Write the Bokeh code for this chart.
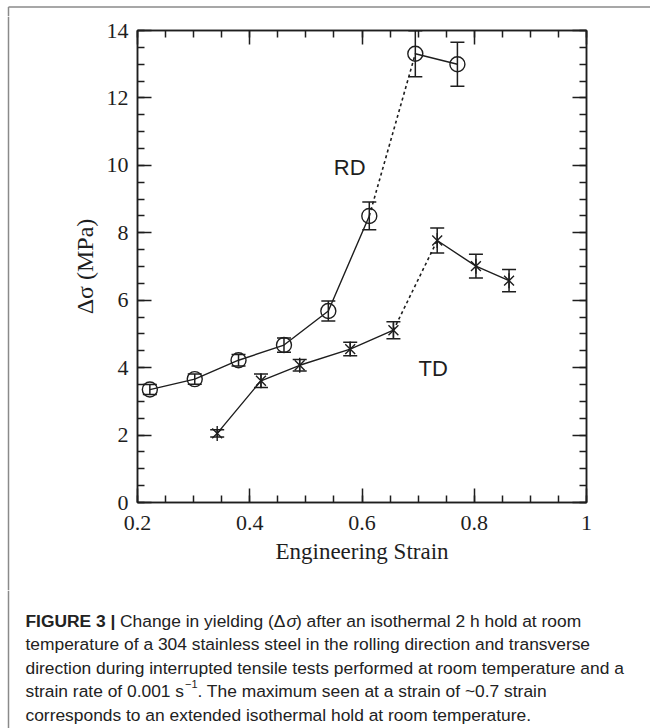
from bokeh.plotting import figure
from bokeh.layouts import column, row
from bokeh.models import (ColumnDataSource, Whisker, TeeHead, FixedTicker, LinearAxis,
                          Label, Range1d, CustomJSTickFormatter)
from bokeh.embed import file_html
from bokeh.resources import INLINE

# ---------------- data ----------------
rd_strain = [0.222, 0.302, 0.380, 0.461, 0.540, 0.613, 0.695, 0.770]
rd_dsigma = [3.35, 3.66, 4.22, 4.67, 5.68, 8.50, 13.31, 13.00]
rd_err = [0.15, 0.15, 0.17, 0.21, 0.30, 0.41, 0.68, 0.65]

td_strain = [0.342, 0.420, 0.489, 0.579, 0.656, 0.734, 0.803, 0.862]
td_dsigma = [2.05, 3.61, 4.07, 4.55, 5.11, 7.77, 7.01, 6.58]
td_err = [0.11, 0.20, 0.17, 0.20, 0.25, 0.37, 0.35, 0.33]

x_major = [0.2, 0.4, 0.6, 0.8, 1.0]
x_minor = [0.2, 0.25, 0.3, 0.35, 0.4, 0.45, 0.5, 0.55, 0.6, 0.65, 0.7, 0.75, 0.8, 0.85, 0.9, 0.95, 1.0]
y_major = [0, 2, 4, 6, 8, 10, 12, 14]
y_minor = [i * 0.5 for i in range(29)]

x_title = "Engineering Strain"
y_title = "\u0394\u03c3 (MPa)"

# caption pieces: (text, style, page x)
caption = [
    [("FIGURE 3 |", "bold", 25), ("Change in yielding (\u0394", "normal", 119.5),
     ("\u03c3", "italic", 286), (") after an isothermal 2 h hold at room", "normal", 295.5)],
    [("temperature of a 304 stainless steel in the rolling direction and transverse", "normal", 25)],
    [("direction during interrupted tensile tests performed at room temperature and a", "normal", 25)],
    [("strain rate of 0.001 s", "normal", 25), (". The maximum seen at a strain of ~0.7 strain", "normal", 197)],
    [("corresponds to an extended isothermal hold at room temperature.", "normal", 25)],
]
caption_base = [620, 643.5, 667, 690.5, 714]

# ---------------- layout constants (page pixels) ----------------
W, H = 650, 728
TOP_H = 16           # strip with the top border line
LEFT_W = 10          # strip with the left border line
PLOT_BOTTOM = 590    # page y where the plot figure ends and the caption starts
PH = PLOT_BOTTOM - TOP_H
PW = W - LEFT_W
FL, FR, FT, FB = 137, 586, 30, 502   # frame edges on the page
INK = "#1e1e1e"
BORDER = "#8a8a8a"
SERIF = "Liberation Serif"
CAPFONT = "Liberation Sans"


def blank(width, height, x0, x1, y0, y1):
    f = figure(width=width, height=height, output_backend="svg", toolbar_location=None,
               x_range=Range1d(x0, x1), y_range=Range1d(y1, y0),
               min_border=0, x_axis_location=None, y_axis_location=None,
               background_fill_color="white", border_fill_color="white")
    f.frame_align = False
    f.grid.visible = False
    f.outline_line_color = None
    return f


# top strip: top border line
ts = blank(W, TOP_H, 0, W, 0, TOP_H)
ts.segment(x0=[8, 8], y0=[6.5, 6.5], x1=[W, 8], y1=[6.5, TOP_H],
           line_color=BORDER, line_width=1.5)

# left strip: left border line
ls = blank(LEFT_W, PH, 0, LEFT_W, TOP_H, PLOT_BOTTOM)
ls.segment(x0=[8], y0=[TOP_H], x1=[8], y1=[PLOT_BOTTOM], line_color=BORDER, line_width=1.5)

# main plot
p = figure(width=PW, height=PH, output_backend="svg", toolbar_location=None,
           x_range=Range1d(0.2, 1.0), y_range=Range1d(0, 14),
           min_border_left=FL - LEFT_W, min_border_right=W - FR,
           min_border_top=FT - TOP_H, min_border_bottom=PLOT_BOTTOM - FB,
           background_fill_color="white", border_fill_color="white")
p.frame_align = False
p.grid.visible = False
p.outline_line_color = INK
p.outline_line_width = 1.5

p.add_layout(LinearAxis(), "above")
p.add_layout(LinearAxis(), "right")

for ax in p.xaxis:
    ax.ticker = FixedTicker(ticks=x_major, minor_ticks=x_minor)
for ax in p.yaxis:
    ax.ticker = FixedTicker(ticks=y_major, minor_ticks=y_minor)

for ax in p.axis:
    ax.major_tick_in = 14
    ax.major_tick_out = 0
    ax.minor_tick_in = 7
    ax.minor_tick_out = 0
    ax.axis_line_color = INK
    ax.axis_line_width = 1.5
    ax.major_tick_line_color = INK
    ax.minor_tick_line_color = INK
    ax.major_tick_line_width = 1.5
    ax.minor_tick_line_width = 1.5
    ax.major_label_text_font = SERIF
    ax.major_label_text_color = INK
    ax.major_label_text_font_size = "22px"
    ax.axis_label_text_font = SERIF
    ax.axis_label_text_font_style = "normal"
    ax.axis_label_text_color = INK
    ax.axis_label_text_font_size = "23px"

for ax in (p.above[0], p.right[0]):
    ax.formatter = CustomJSTickFormatter(code="return ''")
    ax.major_label_standoff = 0
    ax.major_label_text_font_size = "4px"

xb = p.below[0]
xb.axis_label = x_title
xb.major_label_standoff = 13
xb.axis_label_standoff = 6
xb.major_label_overrides = {1.0: "1"}

yl = p.left[0]
yl.axis_label = y_title
yl.major_label_standoff = 9
yl.axis_label_standoff = 6
yl.axis_label_text_font_size = "24px"


def draw_series(xs, ys, errs, dotted_at, marker):
    src = ColumnDataSource(dict(x=xs, y=ys,
                                lo=[a - b for a, b in zip(ys, errs)],
                                hi=[a + b for a, b in zip(ys, errs)]))
    p.add_layout(Whisker(source=src, base="x", lower="lo", upper="hi", dimension="height",
                         line_color=INK, line_width=1.5,
                         upper_head=TeeHead(size=14, line_color=INK, line_width=1.5),
                         lower_head=TeeHead(size=14, line_color=INK, line_width=1.5)))
    k = dotted_at
    p.line(xs[:k + 1], ys[:k + 1], line_color=INK, line_width=1.4)
    p.line(xs[k:k + 2], ys[k:k + 2], line_color=INK, line_width=1.6, line_dash="3 3")
    p.line(xs[k + 1:], ys[k + 1:], line_color=INK, line_width=1.4)
    if marker == "circle":
        p.scatter("x", "y", source=src, marker="circle", size=15, fill_color=None,
                  line_color=INK, line_width=1.4)
    else:
        p.scatter("x", "y", source=src, marker="x", size=14, line_color=INK, line_width=1.4)
        p.scatter("x", "y", source=src, marker="dash", angle=1.5708, size=15,
                  line_color=INK, line_width=1.4)


draw_series(rd_strain, rd_dsigma, rd_err, 5, "circle")
draw_series(td_strain, td_dsigma, td_err, 4, "star")

p.add_layout(Label(x=0.578, y=9.95, text="RD", text_font="Liberation Sans",
                   text_font_size="22px", text_color=INK, text_align="center",
                   text_baseline="middle"))
p.add_layout(Label(x=0.727, y=3.98, text="TD", text_font="Liberation Sans",
                   text_font_size="22px", text_color=INK, text_align="center",
                   text_baseline="middle"))

# caption figure: data coordinates are page pixels
cf = blank(W, H - PLOT_BOTTOM, 0, W, PLOT_BOTTOM, H)
cf.segment(x0=[8], y0=[PLOT_BOTTOM], x1=[8], y1=[H], line_color=BORDER, line_width=1.5)


def cap(text, x, base, style="normal", size="17.4px"):
    cf.add_layout(Label(x=x, y=base, text=text, text_font=CAPFONT, text_font_size=size,
                        text_font_style=style, text_color="#222222",
                        text_align="left", text_baseline="alphabetic"))


for line, base in zip(caption, caption_base):
    for text, style, x in line:
        cap(text, x, base, style)
cap("\u22121", 184.5, caption_base[3] - 7, "normal", "11px")

layout = column(ts, row(ls, p, spacing=0), cf, spacing=0)
open("out.html", "w").write(file_html(layout, INLINE))
